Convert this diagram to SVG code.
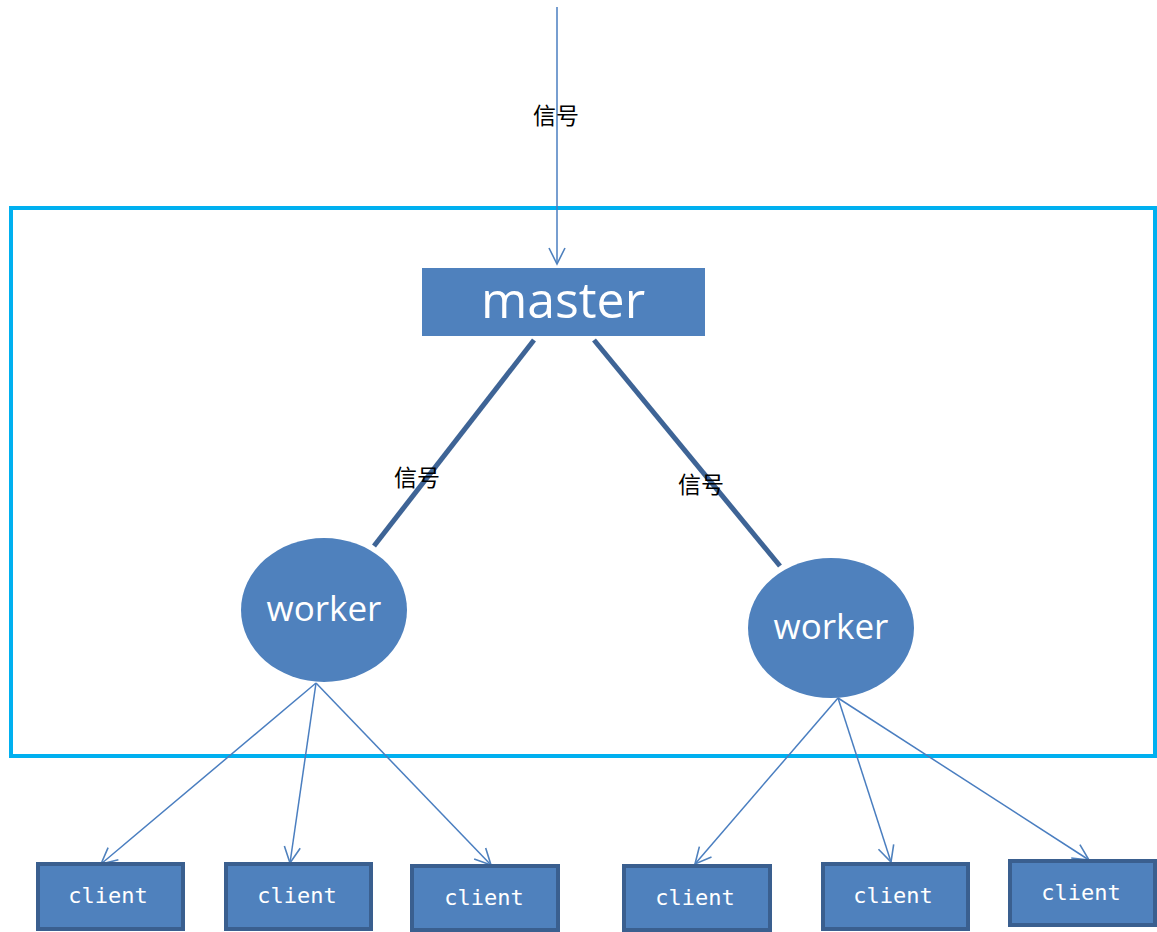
<svg xmlns="http://www.w3.org/2000/svg" width="1157" height="932" viewBox="0 0 1157 932">
  <defs>
    <marker id="arrow" viewBox="0 0 20 20" refX="18" refY="10" markerWidth="20" markerHeight="20" markerUnits="userSpaceOnUse" orient="auto">
      <path d="M2,2 L18,10 L2,18" fill="none" stroke="#4F81BD" stroke-width="1.6"/>
    </marker>
    <style>
      .frame { fill: none; stroke: #00B0F0; stroke-width: 4; }
      .thin { stroke: #4A7EC0; stroke-width: 1.5; fill: none; }
      .thick { stroke: #3E6496; stroke-width: 5; fill: none; }
      .node { fill: #4F81BD; }
      .client { fill: #4F81BD; stroke: #3A5F8F; stroke-width: 4; }
      .lbl { font-family: "Noto Sans CJK SC", sans-serif; font-size: 23px; fill: #000; text-anchor: middle; }
      .big { font-family: "Open Sans", "Noto Sans", sans-serif; fill: #fff; text-anchor: middle; }
      .mono { font-family: "DejaVu Sans Mono", monospace; font-size: 22px; fill: #fff; text-anchor: middle; }
    </style>
  </defs>

  <rect class="frame" x="11" y="208" width="1144" height="548"/>

  <g id="connectors">
    <line class="thin" x1="557" y1="7" x2="557" y2="264" marker-end="url(#arrow)"/>
    <line class="thick" x1="534" y1="340" x2="374" y2="546"/>
    <line class="thick" x1="594" y1="340" x2="780" y2="566"/>
    <line class="thin" x1="316" y1="683" x2="101" y2="864" marker-end="url(#arrow)"/>
    <line class="thin" x1="316" y1="683" x2="290" y2="863" marker-end="url(#arrow)"/>
    <line class="thin" x1="316" y1="683" x2="491" y2="865" marker-end="url(#arrow)"/>
    <line class="thin" x1="838" y1="698" x2="695" y2="864" marker-end="url(#arrow)"/>
    <line class="thin" x1="838" y1="698" x2="891" y2="862" marker-end="url(#arrow)"/>
    <line class="thin" x1="838" y1="698" x2="1089" y2="860" marker-end="url(#arrow)"/>
    <text class="lbl" x="556" y="124">信号</text>
    <text class="lbl" x="417" y="486">信号</text>
    <text class="lbl" x="701" y="493">信号</text>
  </g>

  <g id="master">
    <rect class="node" x="422" y="268" width="283" height="68"/>
    <text class="big" x="563" y="318" font-size="50">master</text>
  </g>

  <g id="worker-left">
    <ellipse class="node" cx="324" cy="610" rx="83" ry="72"/>
    <text class="big" x="324" y="621" font-size="35">worker</text>
  </g>

  <g id="worker-right">
    <ellipse class="node" cx="831" cy="628" rx="83" ry="70"/>
    <text class="big" x="831" y="639" font-size="35">worker</text>
  </g>

  <g id="client-1">
    <rect class="client" x="38" y="864" width="145" height="65"/>
    <text class="mono" x="108" y="903">client</text>
  </g>
  <g id="client-2">
    <rect class="client" x="226" y="864" width="145" height="65"/>
    <text class="mono" x="297" y="903">client</text>
  </g>
  <g id="client-3">
    <rect class="client" x="412" y="866" width="146" height="64"/>
    <text class="mono" x="484" y="905">client</text>
  </g>
  <g id="client-4">
    <rect class="client" x="624" y="866" width="146" height="64"/>
    <text class="mono" x="695" y="905">client</text>
  </g>
  <g id="client-5">
    <rect class="client" x="823" y="864" width="145" height="65"/>
    <text class="mono" x="893" y="903">client</text>
  </g>
  <g id="client-6">
    <rect class="client" x="1010" y="861" width="145" height="64"/>
    <text class="mono" x="1081" y="900">client</text>
  </g>
</svg>
